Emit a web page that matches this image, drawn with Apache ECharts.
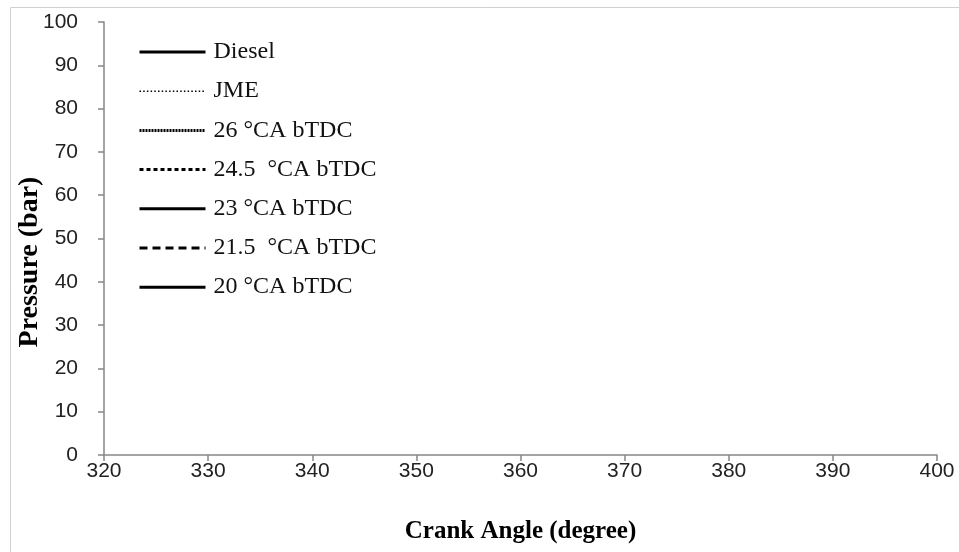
<!DOCTYPE html>
<html>
<head>
<meta charset="utf-8">
<script src="https://cdn.jsdelivr.net/npm/echarts@6/dist/echarts.min.js"></script>
<style>
html,body{margin:0;padding:0;background:#fff;}
#chart{width:959px;height:552px;}
</style>
</head>
<body>
<div id="chart"></div>
<script>
// Series names (legend) – no data curves are visible in the reference
const seriesNames = ['Diesel', 'JME', '26 \u00B0CA bTDC', '24.5  \u00B0CA bTDC', '23 \u00B0CA bTDC', '21.5  \u00B0CA bTDC', '20 \u00B0CA bTDC'];
// Data points ([crank angle, pressure]) – the reference plot area is empty
const dieselData = [];
const jmeData = [];
const t26Data = [];
const t245Data = [];
const t23Data = [];
const t215Data = [];
const t20Data = [];
// Axis ranges
const xMin = 320, xMax = 400, xStep = 10;
const yMin = 0, yMax = 100, yStep = 10;

const dataSets = [dieselData, jmeData, t26Data, t245Data, t23Data, t215Data, t20Data];
const lineStyles = [
  {type: 'solid', width: 3},
  {type: [1.5, 2.2], width: 1.5},
  {type: [2, 1], width: 3},
  {type: [4, 3], width: 3},
  {type: 'solid', width: 3},
  {type: [8, 5], width: 3},
  {type: 'solid', width: 3}
];

const chart = echarts.init(document.getElementById('chart'), null, {renderer: 'canvas'});
const axisColor = '#868686';
chart.setOption({
  animation: false,
  backgroundColor: '#ffffff',
  graphic: [
    {type: 'rect', left: 8, top: 5, shape: {width: 960, height: 560}, style: {fill: 'none', stroke: '#d0d0d0', lineWidth: 1}, silent: true, z: -1},
    {type: 'text', x: 30, y: 262, rotation: Math.PI / 2,
     style: {text: 'Pressure (bar)', font: 'bold 28px "Liberation Serif", serif', fill: '#000', align: 'center', verticalAlign: 'middle'}}
  ],
  legend: {
    orient: 'vertical',
    left: 138,
    top: 40,
    padding: 0,
    itemWidth: 66,
    itemHeight: 14,
    itemGap: 15.2,
    data: seriesNames,
    itemStyle: {opacity: 0},
    lineStyle: {width: 'inherit', type: 'inherit', color: 'inherit'},
    textStyle: {fontFamily: '"Liberation Serif", serif', fontSize: 24, color: '#111', lineHeight: 24, padding: [0, 0, 0, 3]},
    selectedMode: false
  },
  grid: {left: 104, right: 22, top: 22, bottom: 97, containLabel: false},
  xAxis: {
    type: 'value', min: xMin, max: xMax, interval: xStep,
    name: 'Crank Angle (degree)', nameLocation: 'middle', nameGap: 64,
    nameTextStyle: {fontFamily: '"Liberation Serif", serif', fontWeight: 'bold', fontSize: 25, color: '#000'},
    axisLine: {show: true, onZero: false, lineStyle: {color: axisColor, width: 1.5}},
    axisTick: {show: true, inside: false, length: 6, lineStyle: {color: axisColor, width: 1.5}},
    axisLabel: {fontFamily: '"Liberation Sans", Arial, sans-serif', fontSize: 21, color: '#222', margin: 6},
    splitLine: {show: false}
  },
  yAxis: {
    type: 'value', min: yMin, max: yMax, interval: yStep,
    axisLine: {show: true, onZero: false, lineStyle: {color: axisColor, width: 1.5}},
    axisTick: {show: true, inside: false, length: 6, lineStyle: {color: axisColor, width: 1.5}},
    axisLabel: {fontFamily: '"Liberation Sans", Arial, sans-serif', fontSize: 21, color: '#222', margin: 26},
    splitLine: {show: false}
  },
  series: seriesNames.map((n, i) => ({
    name: n, type: 'line', data: dataSets[i], showSymbol: false, symbol: 'none', symbolSize: 0,
    itemStyle: {color: '#000'},
    lineStyle: Object.assign({color: '#000'}, lineStyles[i])
  }))
});
</script>
</body>
</html>
